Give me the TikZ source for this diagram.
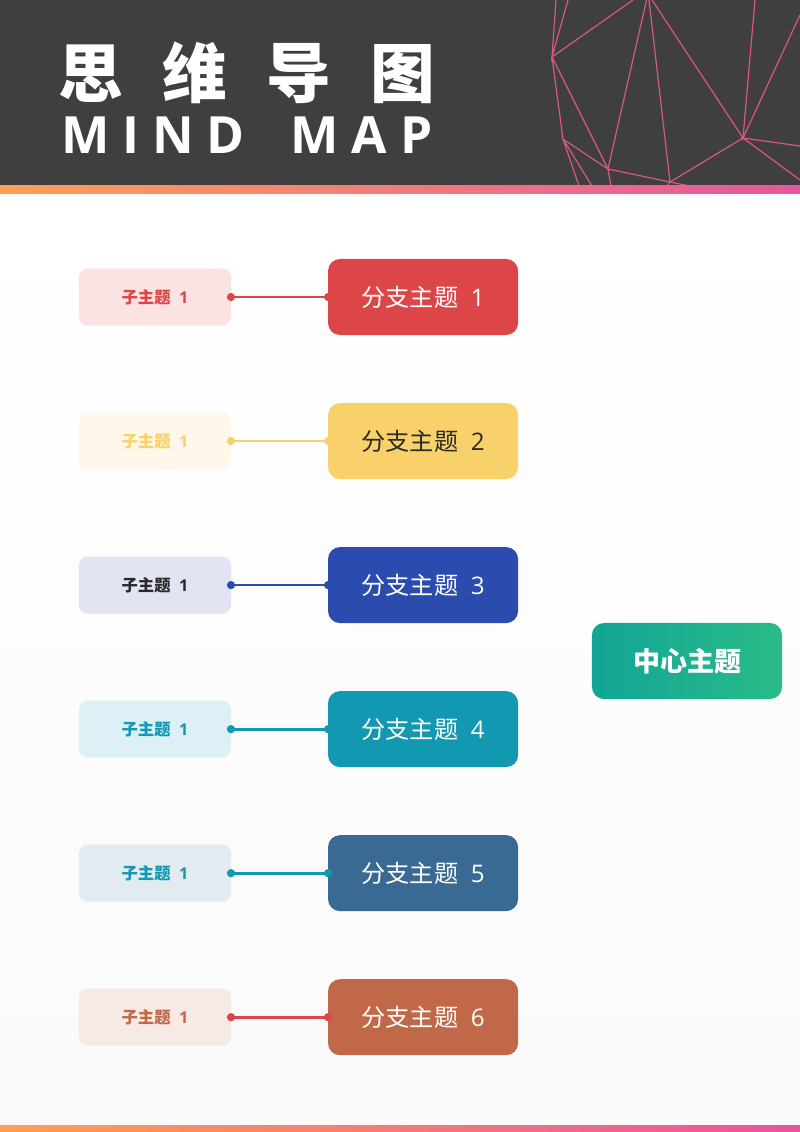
\documentclass[tikz,border=0pt]{standalone}
\usepackage{fontspec}
\setmainfont{Noto Sans CJK SC}
\newfontfamily\latinfont{Open Sans}
\usetikzlibrary{positioning,arrows.meta}
\definecolor{headgray}{HTML}{3F3F3F}
\definecolor{barorange}{HTML}{FF9F55}
\definecolor{barmid}{HTML}{F4767A}
\definecolor{barpink}{HTML}{E6559F}
\definecolor{webpink}{HTML}{D9587F}
\definecolor{redmain}{HTML}{DC4649}
\definecolor{yellowmain}{HTML}{F9D16B}
\definecolor{bluemain}{HTML}{2B4BAE}
\definecolor{tealmain}{HTML}{1298B0}
\definecolor{steelmain}{HTML}{386A94}
\definecolor{rustmain}{HTML}{C06848}
\definecolor{redlight}{HTML}{FBE3E4}
\definecolor{yellowlight}{HTML}{FFF7E9}
\definecolor{bluelight}{HTML}{E0E4F3}
\definecolor{teallight}{HTML}{DCF0F5}
\definecolor{steellight}{HTML}{E2EBF0}
\definecolor{rustlight}{HTML}{F7E9E4}
\definecolor{darktext}{HTML}{2A2A2A}
\definecolor{centerleft}{HTML}{12A596}
\definecolor{centerright}{HTML}{2ABB88}
\tikzset{
    x=0.025cm, y=-0.025cm, % one unit is one pixel of the page, y runs downward
    subtopic/.style={rectangle, rounded corners=.22cm, minimum width=3.8cm,
      minimum height=1.425cm, inner sep=0pt, outer sep=0pt,
      font=\bfseries\fontsize{11.6}{14}\selectfont},
    branchtopic/.style={rectangle, rounded corners=.3cm, minimum width=4.75cm,
      minimum height=1.9cm, inner sep=0pt, outer sep=0pt, font=\fontsize{17.2}{20}\selectfont},
    link/.style={line width=.07cm, {Circle[length=.2cm]}-{Circle[length=.2cm]},
      shorten <=-.1cm, shorten >=-.1cm},
    web/.style={webpink, line width=.03cm},
}

\begin{document}
\begin{tikzpicture}
  \useasboundingbox (0,0) rectangle (800,1132);
  % page and header
  \shade[top color=white, bottom color=black!2] (0,193) rectangle (800,1125);
  \fill[headgray] (0,0) rectangle (800,186);

  % lines in the corner of the header
  \coordinate (w_a) at (552,57);
  \coordinate (w_d) at (563,139);
  \coordinate (w_e) at (608,169);
  \coordinate (w_f) at (670,182);
  \coordinate (w_g) at (743,138);
  \draw[web] (556,0) -- (w_a) -- (568,0);
  \draw[web] (633,0) -- (w_a) -- (w_d) -- (w_e) -- (w_a);
  \draw[web] (579,186) -- (w_d) -- (592,186);
  \draw[web] (646.5,0) -- (w_e) -- (611,186);
  \draw[web] (w_e) -- (w_f) -- (649,0);
  \draw[web] (667,186) -- (w_f) -- (690,186);
  \draw[web] (w_f) -- (w_g) -- (652,0);
  \draw[web] (755,0) -- (w_g) -- (800,15);
  \draw[web] (800,146) -- (w_g) -- (800,180);

  % colour bars
  \shade[left color=barorange, middle color=barmid, right color=barpink] (0,185) rectangle (800,193);
  \shade[left color=barorange, middle color=barmid, right color=barpink] (0,1125) rectangle (800,1132);

  \node[anchor=west, inner sep=0pt, text=white,
      font=\bfseries\fontsize{46}{50}\selectfont] (title_cn) at (58,73)
    {\spaceskip=28pt 思 维 导 图};
  \node[anchor=west, inner sep=0pt, text=white,
      font=\latinfont\bfseries\fontsize{36.5}{40}\selectfont\addfontfeature{LetterSpace=25}] (title_en) at (61,135)
    {MIND\hspace{14pt} MAP};

  \node[subtopic, fill=redlight, text=redmain] (sub_1) at (155,297) {子主题\hspace{6pt}{\latinfont 1}};
  \node[subtopic, fill=yellowlight, text=yellowmain, below=2.175cm of sub_1] (sub_2) {子主题\hspace{6pt}{\latinfont 1}};
  \node[subtopic, fill=bluelight, text=darktext, below=2.175cm of sub_2] (sub_3) {子主题\hspace{6pt}{\latinfont 1}};
  \node[subtopic, fill=teallight, text=tealmain, below=2.175cm of sub_3] (sub_4) {子主题\hspace{6pt}{\latinfont 1}};
  \node[subtopic, fill=steellight, text=tealmain, below=2.175cm of sub_4] (sub_5) {子主题\hspace{6pt}{\latinfont 1}};
  \node[subtopic, fill=rustlight, text=rustmain, below=2.175cm of sub_5] (sub_6) {子主题\hspace{6pt}{\latinfont 1}};

  \node[branchtopic, fill=redmain, text=white, right=2.425cm of sub_1] (branch_1) {分支主题\hspace{9pt}{\latinfont 1}};
  \node[branchtopic, fill=yellowmain, text=darktext, right=2.425cm of sub_2] (branch_2) {分支主题\hspace{9pt}{\latinfont 2}};
  \node[branchtopic, fill=bluemain, text=white, right=2.425cm of sub_3] (branch_3) {分支主题\hspace{9pt}{\latinfont 3}};
  \node[branchtopic, fill=tealmain, text=white, right=2.425cm of sub_4] (branch_4) {分支主题\hspace{9pt}{\latinfont 4}};
  \node[branchtopic, fill=steelmain, text=white, right=2.425cm of sub_5] (branch_5) {分支主题\hspace{9pt}{\latinfont 5}};
  \node[branchtopic, fill=rustmain, text=white, right=2.425cm of sub_6] (branch_6) {分支主题\hspace{9pt}{\latinfont 6}};

  \node[branchtopic, left color=centerleft, right color=centerright,
      text=white, font=\bfseries\fontsize{19.2}{22}\selectfont] (center) at (687,661) {中心主题};

  \draw[link, redmain] (sub_1) -- (branch_1);
  \draw[link, yellowmain] (sub_2) -- (branch_2);
  \draw[link, bluemain] (sub_3) -- (branch_3);
  \draw[link, tealmain] (sub_4) -- (branch_4);
  \draw[link, tealmain] (sub_5) -- (branch_5);
  \draw[link, redmain] (sub_6) -- (branch_6);
\end{tikzpicture}
\end{document}
